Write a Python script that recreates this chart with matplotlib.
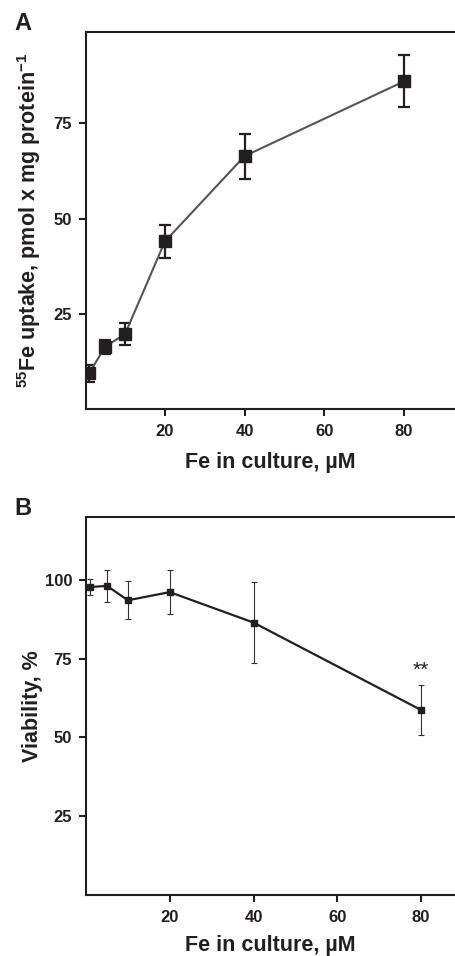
import numpy as np
import matplotlib
matplotlib.use("Agg")
import matplotlib.pyplot as plt

plt.rcParams['font.family'] = ['Liberation Sans', 'DejaVu Sans']
plt.rcParams['font.weight'] = 'bold'
plt.rcParams['mathtext.fontset'] = 'custom'
plt.rcParams['mathtext.rm'] = 'Liberation Sans:bold'
plt.rcParams['mathtext.bf'] = 'Liberation Sans:bold'
plt.rcParams['mathtext.default'] = 'rm'

# panel A: 55Fe uptake
fe_a = [1, 5, 10, 20, 40, 80]
uptake = [9.4, 16.4, 19.7, 44.0, 66.4, 86.0]
uptake_err = [2.2, 1.8, 2.8, 4.4, 5.9, 6.8]

# panel B: viability
fe_b = [1, 5, 10, 20, 40, 80]
viability = [97.8, 98.2, 93.6, 96.2, 86.5, 58.7]
viability_err = [2.6, 5.0, 6.0, 7.0, 12.8, 7.9]

ink = '#231f20'

fig = plt.figure(figsize=(4.55, 9.56), dpi=100)
axA = fig.add_axes([0.189, 0.572, 0.811, 0.3947])
axB = fig.add_axes([0.189, 0.0643, 0.811, 0.3946])

axA.errorbar(fe_a, uptake, yerr=uptake_err, color='#555555', lw=1.5,
             marker='s', ms=8.5, mfc=ink, mec=ink, ecolor=ink,
             elinewidth=1.6, capsize=4, capthick=1.6, zorder=3)
axB.errorbar(fe_b, viability, yerr=viability_err, color=ink, lw=1.6,
             marker='s', ms=4.5, mfc=ink, mec=ink, ecolor='#333333',
             elinewidth=0.8, capsize=2.2, capthick=0.8, zorder=3)
axB.text(80, 71.4, '**', ha='center', va='center', fontsize=15,
         fontweight='normal', color=ink)

axA.set_xlim(0.2, 92.8)
axA.set_ylim(0, 99)
axA.set_xticks([20, 40, 60, 80])
axA.set_yticks([25, 50, 75])
axB.set_xlim(0, 88.1)
axB.set_ylim(0, 120)
axB.set_xticks([20, 40, 60, 80])
axB.set_yticks([25, 50, 75, 100])

for ax in (axA, axB):
    ax.spines['right'].set_visible(False)
    for s in ('left', 'top', 'bottom'):
        ax.spines[s].set_linewidth(1.5)
        ax.spines[s].set_color(ink)
    ax.tick_params(direction='out', length=5, width=1.5, color=ink,
                   labelsize=12, labelcolor=ink, pad=5)
    ax.tick_params(axis='x', pad=6)
    ax.set_xlabel('Fe in culture, µM', fontsize=15.5, fontweight='bold',
                  color=ink, va='top')

axA.set_ylabel(r'$^{55}$Fe uptake, pmol x mg protein$^{-1}$', fontsize=15.5,
               fontweight='bold', color=ink)
axB.set_ylabel('Viability, %', fontsize=15.5, fontweight='bold', color=ink)
axA.xaxis.set_label_coords(0.5, -0.114)
axB.xaxis.set_label_coords(0.5, -0.108)
axA.yaxis.set_label_coords(-0.117, 0.5)
axB.yaxis.set_label_coords(-0.117, 0.5)

fig.text(0.031, 0.9686, 'A', fontsize=17, fontweight='bold', color=ink,
         va='baseline')
fig.text(0.031, 0.4613, 'B', fontsize=17, fontweight='bold', color=ink,
         va='baseline')

plt.savefig('out.png', dpi=100)
